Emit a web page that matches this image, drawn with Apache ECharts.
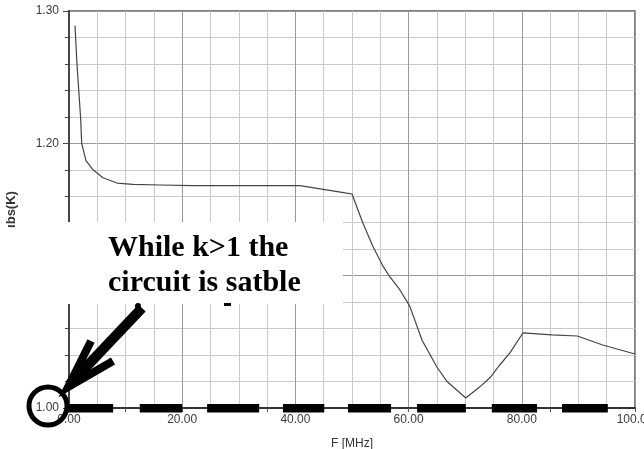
<!DOCTYPE html>
<html>
<head>
<meta charset="utf-8">
<script src="https://cdn.jsdelivr.net/npm/echarts@6/dist/echarts.min.js"></script>
<style>
  html, body { margin: 0; padding: 0; background: #fff; }
  #chart { width: 644px; height: 449px; }
</style>
</head>
<body>
<div id="chart"></div>
<script>
// Stability factor K versus frequency
const freqMHz = [1.06, 1.41, 2.07, 2.24, 3.0, 4.24, 6.0, 8.5, 11.3, 16.1, 21.9, 30.0, 40.8, 48.8, 50.0,
                 51.9, 53.7, 55.5, 56.7, 58.5, 60.2, 62.4, 65.0, 66.8, 70.1, 72.6, 74.4, 76.1, 77.9,
                 80.2, 85.3, 89.8, 94.3, 100.0];
const kValues = [1.289, 1.260, 1.218, 1.200, 1.187, 1.180, 1.174, 1.170, 1.169, 1.1685, 1.168, 1.168, 1.168, 1.1625, 1.1617,
                 1.140, 1.122, 1.107, 1.099, 1.089, 1.077, 1.051, 1.031, 1.020, 1.0076, 1.016, 1.023, 1.0325, 1.0416,
                 1.0567, 1.0552, 1.0544, 1.0476, 1.0408];

// Hand-drawn emphasis along the K = 1 line (start / end frequency of each dash)
const dashStart = [-0.3, 12.5, 24.4, 37.8, 49.3, 61.5, 74.7, 87.1];
const dashEnd   = [7.8, 20.0, 33.6, 45.1, 56.9, 70.1, 82.7, 95.2];

const yTicks = { min: 1.0, max: 1.3, step: 0.1 };
const xTicks = { min: 0, max: 100, step: 20 };

const chart = echarts.init(document.getElementById('chart'), null, { renderer: 'canvas' });

const curve = freqMHz.map((f, i) => [f, kValues[i]]);
const dashes = dashStart.map((s, i) => ({ coords: [[s, 1.0], [dashEnd[i], 1.0]] }));

const labelFont = { fontFamily: 'Liberation Sans, Arial, sans-serif', fontSize: 12, color: '#3a3a3a' };

chart.setOption({
  animation: false,
  backgroundColor: '#fff',
  grid: {
    left: 69, right: 9, top: 11, bottom: 41,
    containLabel: false, outerBoundsMode: 'none',
    show: true, borderColor: '#555', borderWidth: 1.5, backgroundColor: 'transparent'
  },
  xAxis: {
    type: 'value',
    min: xTicks.min, max: xTicks.max, interval: xTicks.step,
    name: 'F [MHz]', nameLocation: 'middle', nameGap: 30,
    nameTextStyle: { fontFamily: 'Liberation Sans, Arial, sans-serif', fontSize: 12, color: '#333' },
    axisLine: { show: true, onZero: false, lineStyle: { color: '#333', width: 2 } },
    axisTick: { show: true, length: 4, lineStyle: { color: '#555' } },
    minorTick: { show: true, splitNumber: 4, length: 4, lineStyle: { color: '#555' } },
    axisLabel: Object.assign({ margin: 6, showMinLabel: true, showMaxLabel: true,
                               formatter: v => v.toFixed(2) }, labelFont),
    splitLine: { show: true, lineStyle: { color: '#999', width: 1 } },
    minorSplitLine: { show: true, lineStyle: { color: '#cacaca', width: 1 } }
  },
  yAxis: {
    type: 'value',
    min: yTicks.min, max: yTicks.max, interval: yTicks.step,
    name: 'ıbs(K)', nameLocation: 'middle', nameGap: 51, nameRotate: 90,
    nameTextStyle: { fontFamily: 'Liberation Sans, Arial, sans-serif', fontSize: 13, fontWeight: 'bold', color: '#333' },
    axisLine: { show: true, onZero: false, lineStyle: { color: '#444', width: 2 } },
    axisTick: { show: true, length: 6, lineStyle: { color: '#444' } },
    minorTick: { show: true, splitNumber: 5, length: 4, lineStyle: { color: '#444' } },
    axisLabel: Object.assign({ margin: 10, showMinLabel: true, showMaxLabel: true,
                               formatter: v => v.toFixed(2) }, labelFont),
    splitLine: { show: true, lineStyle: { color: '#999', width: 1 } },
    minorSplitLine: { show: true, lineStyle: { color: '#cacaca', width: 1 } }
  },
  series: [
    {
      type: 'line',
      data: curve,
      showSymbol: false,
      lineStyle: { color: '#444', width: 1.2 },
      z: 3
    },
    {
      type: 'lines',
      coordinateSystem: 'cartesian2d',
      data: dashes,
      lineStyle: { color: '#000', width: 9, opacity: 1, cap: 'butt' },
      z: 4,
      silent: true
    }
  ],
  graphic: [
    { type: 'rect', shape: { x: 25, y: 222, width: 318, height: 82 }, style: { fill: '#fff' }, z: 100 },
    { type: 'text', x: 108, y: 248, z: 101,
      style: { text: 'While k>1 the', font: 'bold 30px "Liberation Serif", "Times New Roman", serif',
               fill: '#000', verticalAlign: 'middle' } },
    { type: 'text', x: 108, y: 283, z: 101,
      style: { text: 'circuit is satble', font: 'bold 30px "Liberation Serif", "Times New Roman", serif',
               fill: '#000', verticalAlign: 'middle' } },
    { type: 'circle', shape: { cx: 138, cy: 306, r: 3 }, style: { fill: '#000' }, z: 101 },
    { type: 'rect', shape: { x: 224, y: 303, width: 7, height: 3 }, style: { fill: '#000' }, z: 101 },
    { type: 'line', shape: { x1: 142, y1: 308, x2: 70, y2: 384 },
      style: { stroke: '#000', lineWidth: 10, lineCap: 'butt' }, z: 102 },
    { type: 'polyline', shape: { points: [[91, 341], [68, 387], [113, 361]] },
      style: { stroke: '#000', lineWidth: 8, fill: null, lineJoin: 'miter', lineCap: 'butt' }, z: 102 },
    { type: 'circle', shape: { cx: 48, cy: 406, r: 19 },
      style: { stroke: '#000', lineWidth: 5, fill: null }, z: 102 }
  ]
});
</script>
</body>
</html>
